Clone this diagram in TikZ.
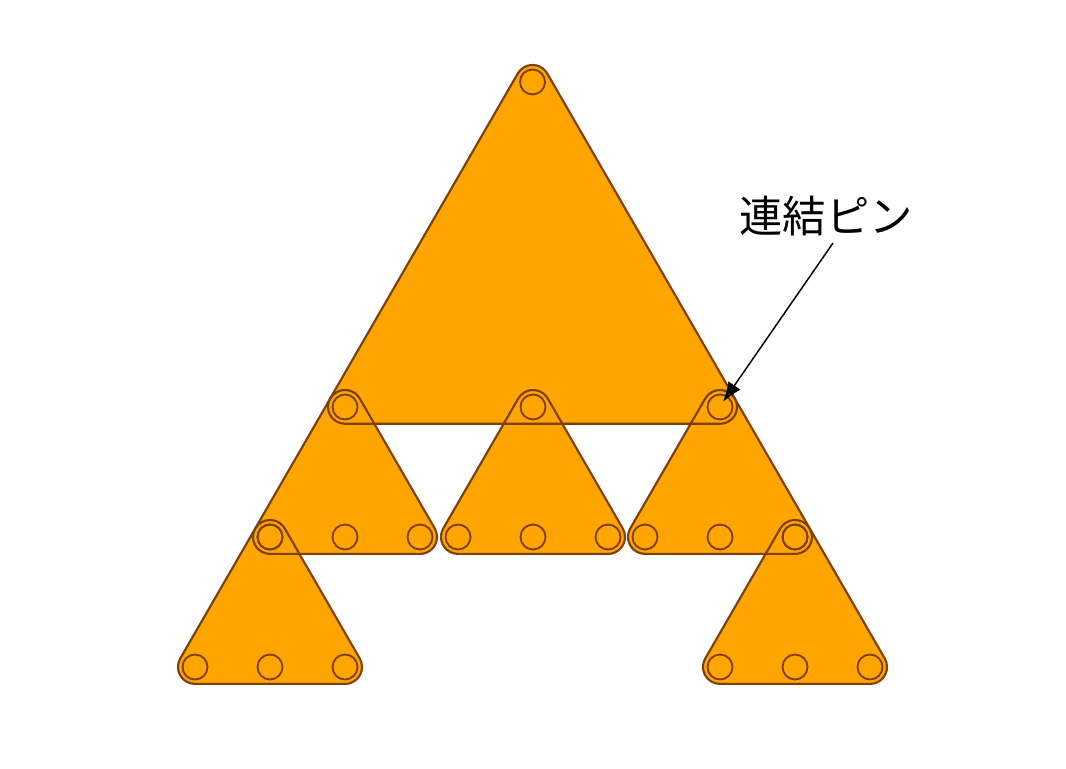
\documentclass[tikz,border=0pt]{standalone}
\usepackage{fontspec}
\newfontfamily\jpfont{Noto Sans CJK JP}
\usetikzlibrary{calc,arrows.meta}
\definecolor{tfill}{HTML}{FFA500}
\definecolor{tline}{HTML}{7F3F08}
\tikzset{
  trifill/.style={fill=tfill},
  triline/.style={draw=tline, line width=1.6pt, line join=round},
  pin/.style={draw=tline, line width=1.4pt},
  pointer/.style={draw=black, line width=1.1pt, -{Latex[length=15pt,width=11pt]}},
}
% #1 apex x, #2 apex y, #3 side, #4 path options ; offset radius 17
\newcommand\mytri[4]{%
  \pgfmathsetmacro\hx{#3/2}%
  \pgfmathsetmacro\hy{#3*0.8660254}%
  \path[#4] ({#1-\hx},{#2-\hy-17}) -- ({#1+\hx},{#2-\hy-17})
    arc[start angle=-90,end angle=30,radius=17]
    -- ({#1+14.722},{#2+8.5})
    arc[start angle=30,end angle=150,radius=17]
    -- ({#1-\hx-14.722},{#2-\hy+8.5})
    arc[start angle=150,end angle=270,radius=17] -- cycle;
}
\newcommand\allTris[1]{%
  \mytri{532.5}{686}{375}{#1}
  \mytri{345}{361}{150}{#1}
  \mytri{533}{361}{150}{#1}
  \mytri{720}{361}{150}{#1}
  \mytri{270}{231}{150}{#1}
  \mytri{795}{231}{150}{#1}
}
\begin{document}
\begin{tikzpicture}[x=0.75pt,y=0.75pt]
\path[fill=white] (0,0) rectangle (1066,768);
\useasboundingbox (0,0) rectangle (1066,768);
\allTris{trifill}
\allTris{triline}
\draw[pin] (532.5,686) circle[radius=12.5];
\foreach \x/\y in {345/361,533/361,720/361,270/231,795/231}{
  \draw[pin] (\x,\y) circle[radius=12.5];
  \draw[pin] ({\x-75},{\y-130}) circle[radius=12.5];
  \draw[pin] (\x,{\y-130}) circle[radius=12.5];
  \draw[pin] ({\x+75},{\y-130}) circle[radius=12.5];
}
\node[inner sep=0pt, font=\jpfont\fontsize{32.5}{38}\selectfont] (lbl) at (826,552) {連結ピン};
\coordinate (arrS) at (833,525);
\coordinate (pinR) at (723,366);
\draw[pointer] (arrS) -- (pinR);
\end{tikzpicture}
\end{document}
